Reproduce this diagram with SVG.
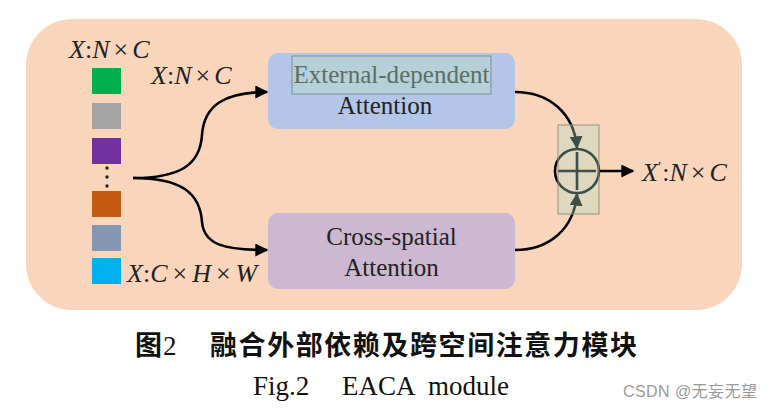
<svg xmlns="http://www.w3.org/2000/svg" width="772" height="408" viewBox="0 0 772 408">
  <defs>
    <marker id="arrow" viewBox="0 0 10 10" refX="9" refY="5" markerWidth="5" markerHeight="5" markerUnits="strokeWidth" orient="auto">
      <path d="M0,0 L10,5 L0,10 Z" fill="#000"/>
    </marker>
    <style>
      .serif { font-family: "Liberation Serif", "Times New Roman", serif; fill: #222; }
      .math { font-family: "Liberation Serif", "Times New Roman", serif; font-style: italic; font-size: 26px; fill: #222; }
      .up { font-family: "Liberation Serif", serif; font-style: normal; }
      .node-label { font-size: 25px; text-anchor: middle; }
      .wire { fill: none; stroke: #000; stroke-width: 2.6; }
      .cell { stroke: none; }
      .cap { font-family: "Liberation Serif", "Times New Roman", serif; font-size: 27px; fill: #111; }
      .cap-cjk { font-family: "Noto Sans CJK SC", sans-serif; font-weight: bold; font-size: 27px; fill: #111; }
    </style>
  </defs>

  <rect width="772" height="408" fill="#fff"/>

  <!-- module background -->
  <rect id="module-bg" x="26" y="19" width="716" height="291" rx="46" ry="46" fill="#f9d5bc"/>

  <!-- input token column -->
  <g id="tokens">
    <rect class="cell" x="92" y="68" width="29" height="26" fill="#00b050"/>
    <rect class="cell" x="92" y="103" width="29" height="26" fill="#a5a5a5"/>
    <rect class="cell" x="92" y="138" width="29" height="26" fill="#7030a0"/>
    <circle cx="107" cy="168" r="1.7" fill="#222"/>
    <circle cx="107" cy="177" r="1.7" fill="#222"/>
    <circle cx="107" cy="186" r="1.7" fill="#222"/>
    <rect class="cell" x="92" y="191" width="29" height="26" fill="#c55a11"/>
    <rect class="cell" x="92" y="225" width="29" height="26" fill="#8497b0"/>
    <rect class="cell" x="92" y="258" width="29" height="26" fill="#00b0f0"/>
    <text class="math" x="69" y="58">X<tspan class="up">:</tspan>N<tspan class="up" dx="4">×</tspan><tspan dx="4">C</tspan></text>
  </g>

  <!-- attention blocks -->
  <g id="external-attention">
    <rect x="268" y="53" width="247" height="76" rx="10" ry="10" fill="#b4c6e7"/>
    <rect x="292" y="56" width="199" height="38" fill="#b5d0d8" stroke="#7d8e94" stroke-width="1"/>
    <text class="serif node-label" x="391.5" y="83" style="fill:#5c6e64" textLength="196" lengthAdjust="spacingAndGlyphs">External-dependent</text>
    <text class="serif node-label" x="385" y="114">Attention</text>
  </g>

  <g id="cross-spatial-attention">
    <rect x="268" y="213" width="247" height="76" rx="10" ry="10" fill="#ccb8d0"/>
    <text class="serif node-label" x="391.5" y="245">Cross-spatial</text>
    <text class="serif node-label" x="391.5" y="276">Attention</text>
  </g>

  <!-- connectors -->
  <g id="connectors">
    <path class="wire" d="M133,178 C180,178 200,165 202,135 C204,105 225,92 267,92" marker-end="url(#arrow)"/>
    <path class="wire" d="M133,178 C180,178 200,192 202,222 C204,245 225,250 267,250" marker-end="url(#arrow)"/>
    <path class="wire" d="M515,92 C548,92 574,112 577,148" marker-end="url(#arrow)"/>
    <path class="wire" d="M515,250 C548,250 574,230 577,194" marker-end="url(#arrow)"/>
    <path class="wire" d="M599,171 L633,171" marker-end="url(#arrow)"/>
    <text class="math" x="151" y="84">X<tspan class="up">:</tspan>N<tspan class="up" dx="4">×</tspan><tspan dx="4">C</tspan></text>
    <text class="math" x="127" y="282">X<tspan class="up">:</tspan>C<tspan class="up" dx="5">×</tspan><tspan dx="5">H</tspan><tspan class="up" dx="5">×</tspan><tspan dx="5">W</tspan></text>
  </g>

  <!-- element-wise sum -->
  <g id="sum">
    <circle cx="577" cy="171" r="22" fill="none" stroke="#000" stroke-width="2.6"/>
    <path d="M558,171 H596 M577,152 V190" stroke="#000" stroke-width="2.6"/>
    <rect x="558" y="125" width="41" height="89" fill="#acdfc6" fill-opacity="0.35" stroke="#9a9080" stroke-width="1"/>
  </g>

  <g id="output">
    <text class="math" x="642" y="181">X<tspan class="up" font-size="15" dy="-9">′</tspan><tspan class="up" dy="9" dx="1">:</tspan>N<tspan class="up" dx="4">×</tspan><tspan dx="4">C</tspan></text>
  </g>

  <!-- captions -->
  <text class="cap-cjk" x="135" y="355">图</text>
  <text class="cap" x="163" y="355">2</text>
  <text class="cap-cjk" x="210" y="355" textLength="427" lengthAdjust="spacing">融合外部依赖及跨空间注意力模块</text>
  <text class="cap" x="253" y="395">Fig.2</text>
  <text class="cap" x="342" y="395">EACA</text>
  <text class="cap" x="428" y="395">module</text>

  <text x="623" y="397" font-family="'Liberation Sans', 'Noto Sans CJK SC', sans-serif" font-size="16" fill="#9a9a9a" textLength="134" lengthAdjust="spacing">CSDN @无妄无望</text>
</svg>
